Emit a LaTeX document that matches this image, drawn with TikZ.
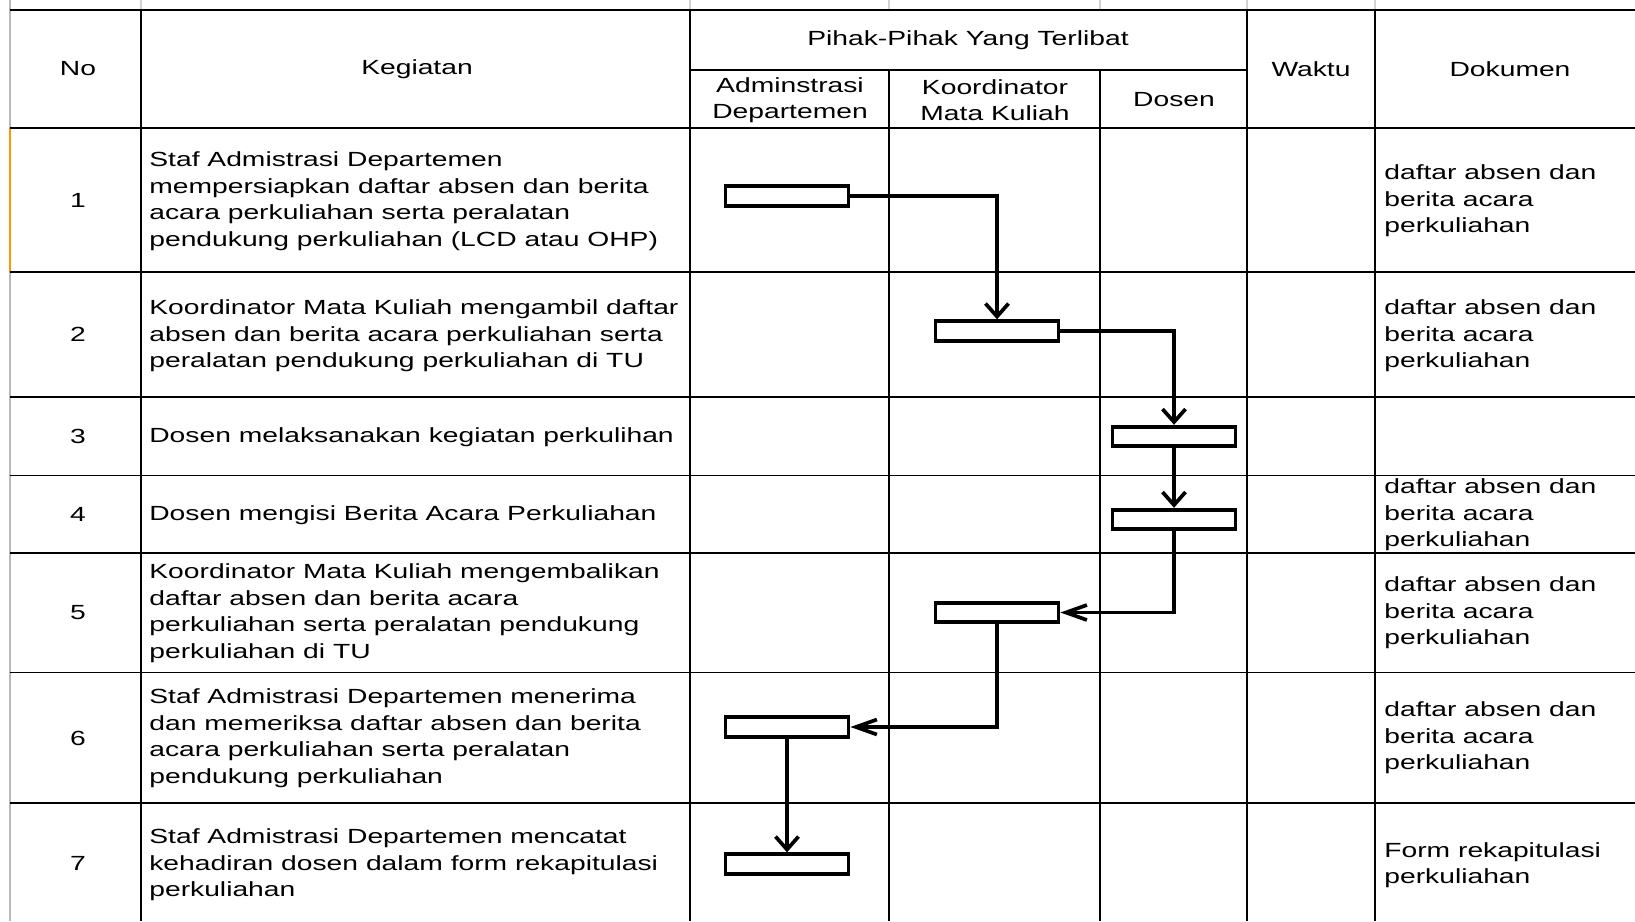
\documentclass[tikz,border=0pt]{standalone}
\usepackage{fontspec}
\setmainfont[FakeStretch=1.38]{Liberation Sans}
\usetikzlibrary{arrows.meta}

\begin{document}
\begin{tikzpicture}[
  x=0.02cm, y=-0.02cm,
  every node/.style={font=\fontsize{11.65pt}{15.1pt}\selectfont},
  grid/.style={line width=1pt},
  sheet/.style={line width=1pt, gray!35},
  head/.style={align=center, inner sep=0},
  num/.style={inner sep=0},
  cell/.style={anchor=west, align=left, inner sep=0},
  flowbox/.style={rectangle, draw, line width=2.2pt, minimum width=2.46cm, minimum height=0.39cm, inner sep=0},
  arr/.style={line width=2.1pt, -{Straight Barb[length=0.26cm, width=0.46cm]}},
  arrh/.style={line width=2.1pt, -{Straight Barb[length=0.42cm, width=0.3cm]}}
]
\useasboundingbox (0,0) rectangle (1635,921);

% spreadsheet edge
\draw[sheet] (141,0) -- (141,10) (690,0) -- (690,10) (889,0) -- (889,10)
  (1100,0) -- (1100,10) (1247,0) -- (1247,10) (1375,0) -- (1375,10);
\draw[line width=1.2pt, gray!55] (10,0) -- (10,921);
\draw[line width=1.4pt, orange!80!yellow] (10,128) -- (10,272);

% table grid
\draw[line width=1.6pt] (10,10) -- (1635,10);
\draw[grid] (690,70) -- (1247,70);
\draw[grid] (10,128) -- (1635,128);
\draw[grid] (10,272) -- (1635,272);
\draw[grid] (10,397) -- (1635,397);
\draw[grid] (10,475.5) -- (1635,475.5);
\draw[grid] (10,553) -- (1635,553);
\draw[grid] (10,672.5) -- (1635,672.5);
\draw[grid] (10,803) -- (1635,803);
\draw[grid] (141,10) -- (141,921);
\draw[grid] (690,10) -- (690,921);
\draw[grid] (889,70) -- (889,921);
\draw[grid] (1100,70) -- (1100,921);
\draw[grid] (1247,10) -- (1247,921);
\draw[grid] (1375,10) -- (1375,921);

% header
\node[head] (hno) at (78,69) {No};
\node[head] (hkeg) at (417,69) {Kegiatan};
\node[head] (hpihak) at (968,40) {Pihak-Pihak Yang Terlibat};
\node[head] (hadm) at (790,100) {Adminstrasi\\Departemen};
\node[head] (hkoor) at (995,100) {Koordinator\\Mata Kuliah};
\node[head] (hdos) at (1174,100) {Dosen};
\node[head] (hwaktu) at (1311,69) {Waktu};
\node[head] (hdok) at (1510,69) {Dokumen};

% numbers
\node[num] (n1) at (78,200) {1};
\node[num] (n2) at (78,334.5) {2};
\node[num] (n3) at (78,436) {3};
\node[num] (n4) at (78,514) {4};
\node[num] (n5) at (78,613) {5};
\node[num] (n6) at (78,738) {6};
\node[num] (n7) at (78,863) {7};

% kegiatan
\node[cell] (k1) at (149,201) {Staf Admistrasi Departemen\\mempersiapkan daftar absen dan berita\\acara perkuliahan serta peralatan\\pendukung perkuliahan (LCD atau OHP)};
\node[cell] (k2) at (149,336) {Koordinator Mata Kuliah mengambil daftar\\absen dan berita acara perkuliahan serta\\peralatan pendukung perkuliahan di TU};
\node[cell] (k3) at (149,437) {Dosen melaksanakan kegiatan perkulihan};
\node[cell] (k4) at (149,515) {Dosen mengisi Berita Acara Perkuliahan};
\node[cell] (k5) at (149,613) {Koordinator Mata Kuliah mengembalikan\\daftar absen dan berita acara\\perkuliahan serta peralatan pendukung\\perkuliahan di TU};
\node[cell] (k6) at (149,738) {Staf Admistrasi Departemen menerima\\dan memeriksa daftar absen dan berita\\acara perkuliahan serta peralatan\\pendukung perkuliahan};
\node[cell] (k7) at (149,865) {Staf Admistrasi Departemen mencatat\\kehadiran dosen dalam form rekapitulasi\\perkuliahan};

% dokumen
\node[cell] (d1) at (1384,201) {daftar absen dan\\berita acara\\perkuliahan};
\node[cell] (d2) at (1384,336) {daftar absen dan\\berita acara\\perkuliahan};
\node[cell] (d4) at (1384,515) {daftar absen dan\\berita acara\\perkuliahan};
\node[cell] (d5) at (1384,613) {daftar absen dan\\berita acara\\perkuliahan};
\node[cell] (d6) at (1384,738) {daftar absen dan\\berita acara\\perkuliahan};
\node[cell] (d7) at (1384,865) {Form rekapitulasi\\perkuliahan};

% flow
\node[flowbox] (b1) at (787,196) {};
\node[flowbox] (b2) at (997,331) {};
\node[flowbox] (b3) at (1174,436.5) {};
\node[flowbox] (b4) at (1174,519.5) {};
\node[flowbox] (b5) at (997,612.5) {};
\node[flowbox] (b6) at (787,727) {};
\node[flowbox] (b7) at (787,864) {};

\draw[arr] (b1.east) -| (b2.north);
\draw[arr] (b2.east) -| (b3.north);
\draw[arr] (b3.south) -- (b4.north);
\draw[arrh] (b4.south) |- (b5.east);
\draw[arrh] (b5.south) |- (b6.east);
\draw[arr] (b6.south) -- (b7.north);
\end{tikzpicture}
\end{document}
